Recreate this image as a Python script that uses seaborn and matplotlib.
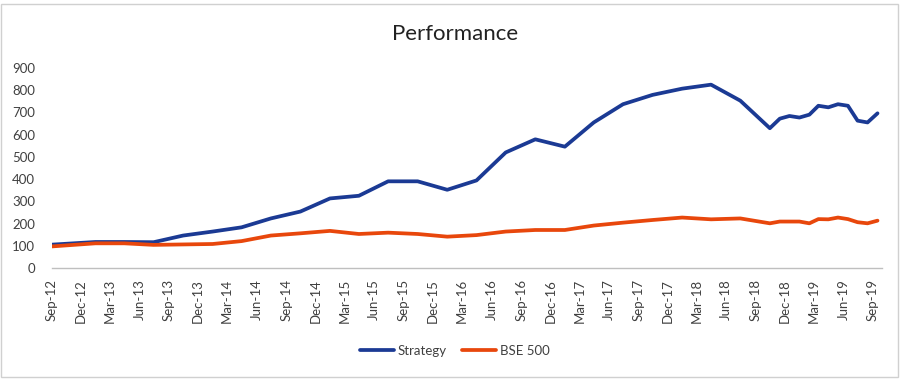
import pandas as pd
import matplotlib
matplotlib.use("Agg")
import matplotlib.pyplot as plt
import matplotlib.dates as mdates
from matplotlib.patches import Rectangle
import seaborn as sns

# observation dates (first point, then quarterly, then monthly from Nov-18)
dates = ["2012-09-01",
         "2013-01-15", "2013-04-15", "2013-07-15", "2013-10-15",
         "2014-01-15", "2014-04-15", "2014-07-15", "2014-10-15",
         "2015-01-15", "2015-04-15", "2015-07-15", "2015-10-15",
         "2016-01-15", "2016-04-15", "2016-07-15", "2016-10-15",
         "2017-01-15", "2017-04-15", "2017-07-15", "2017-10-15",
         "2018-01-15", "2018-04-15", "2018-07-15", "2018-10-15",
         "2018-11-15", "2018-12-15", "2019-01-15", "2019-02-15",
         "2019-03-15", "2019-04-15", "2019-05-15", "2019-06-15",
         "2019-07-15", "2019-08-15", "2019-09-15"]

strategy = [105,
            117, 117, 116, 146,
            164, 183, 223, 254,
            313, 325, 390, 390,
            352, 394, 520, 579,
            546, 655, 737, 779,
            807, 825, 753, 629,
            672, 684, 677, 690,
            730, 723, 737, 730,
            663, 655, 696]

bse500 = [97,
          111, 111, 104, 106,
          108, 121, 146, 156,
          167, 153, 159, 153,
          141, 148, 164, 171,
          171, 191, 204, 216,
          227, 219, 223, 201,
          209, 209, 209, 201,
          220, 219, 227, 220,
          206, 201, 213]

series_names = ["Strategy", "BSE 500"]
colors = ["#1B3A94", "#E8470C"]

df = pd.concat([
    pd.DataFrame({"date": pd.to_datetime(dates), "value": strategy, "series": series_names[0]}),
    pd.DataFrame({"date": pd.to_datetime(dates), "value": bse500, "series": series_names[1]}),
])

sns.set_style("white")
plt.rcParams["font.family"] = ["Lato", "DejaVu Sans"]

fig = plt.figure(figsize=(9.04, 3.79), dpi=100)
ax = fig.add_axes([0.0572, 0.2929, 0.9181, 0.5277])

sns.lineplot(data=df, x="date", y="value", hue="series", palette=colors,
             linewidth=2.7, ax=ax, legend=False)

ax.set_ylim(0, 900)
ax.set_yticks(range(0, 901, 100))
ax.set_xlim(pd.Timestamp("2012-09-01"), pd.Timestamp("2019-09-28"))
ax.xaxis.set_major_locator(mdates.MonthLocator(bymonth=[3, 6, 9, 12], bymonthday=1))
ax.xaxis.set_major_formatter(mdates.DateFormatter("%b-%y"))
ax.set_xlabel("")
ax.set_ylabel("")

for s in ["top", "right", "left"]:
    ax.spines[s].set_visible(False)
ax.spines["bottom"].set_color("#BFBFBF")
ax.spines["bottom"].set_linewidth(1)
ax.tick_params(axis="x", which="major", direction="out", length=5, width=1,
               color="#BFBFBF", labelrotation=90, labelsize=9.5, labelcolor="#404040", pad=3)
ax.tick_params(axis="y", length=0, labelsize=9.5, labelcolor="#404040", pad=12)

fig.text(0.503, 0.91, "Performance", ha="center", va="center", fontsize=16, color="#222222")

handles = [plt.Line2D([], [], color=c, lw=2.7) for c in colors]
fig.legend(handles, series_names, loc="center", bbox_to_anchor=(0.503, 0.074), ncol=2,
           frameon=False, fontsize=9.5, handlelength=2.6, handletextpad=0.3,
           columnspacing=1.1, labelcolor="#404040")

fig.patches.append(Rectangle((0.001, 0.005), 0.992, 0.984, transform=fig.transFigure,
                             fill=False, edgecolor="#D0D0D0", linewidth=1))

fig.savefig("out.png", dpi=100)
